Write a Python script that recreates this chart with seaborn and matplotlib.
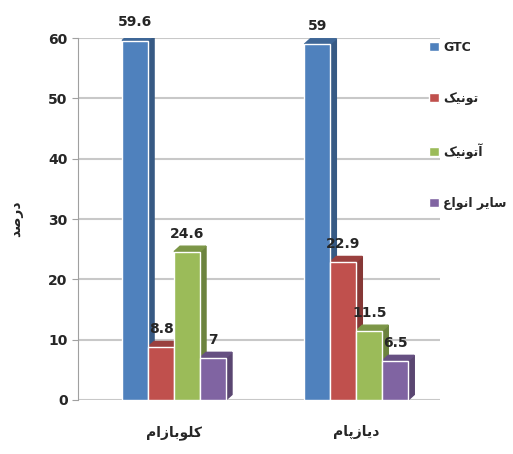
import pandas as pd
import matplotlib.pyplot as plt
import seaborn as sns
from matplotlib.patches import Polygon
from matplotlib.colors import to_rgb

# Presentation forms for the Persian letters used (isolated, final, initial, medial)
FORMS = {
    'ا': ('\uFE8D', '\uFE8E'),
    'آ': ('\uFE81', '\uFE82'),
    'د': ('\uFEA9', '\uFEAA'),
    'ر': ('\uFEAD', '\uFEAE'),
    'ز': ('\uFEAF', '\uFEB0'),
    'و': ('\uFEED', '\uFEEE'),
    'ب': ('\uFE8F', '\uFE90', '\uFE91', '\uFE92'),
    'پ': ('\uFB56', '\uFB57', '\uFB58', '\uFB59'),
    'ت': ('\uFE95', '\uFE96', '\uFE97', '\uFE98'),
    'س': ('\uFEB1', '\uFEB2', '\uFEB3', '\uFEB4'),
    'ص': ('\uFEB9', '\uFEBA', '\uFEBB', '\uFEBC'),
    'ع': ('\uFEC9', '\uFECA', '\uFECB', '\uFECC'),
    'ک': ('\uFB8E', '\uFB8F', '\uFB90', '\uFB91'),
    'ل': ('\uFEDD', '\uFEDE', '\uFEDF', '\uFEE0'),
    'م': ('\uFEE1', '\uFEE2', '\uFEE3', '\uFEE4'),
    'ن': ('\uFEE5', '\uFEE6', '\uFEE7', '\uFEE8'),
    'ی': ('\uFBFC', '\uFBFD', '\uFBFE', '\uFBFF'),
}


def shape(txt):
    # matplotlib does no Arabic shaping / bidi, so do it by hand
    if not any(ch in FORMS for ch in txt):
        return txt
    out = []
    for i, ch in enumerate(txt):
        f = FORMS.get(ch)
        if f is None:
            out.append(ch)
            continue
        prev = txt[i - 1] if i > 0 else None
        nxt = txt[i + 1] if i + 1 < len(txt) else None
        join_prev = prev in FORMS and len(FORMS[prev]) == 4
        join_next = len(f) == 4 and nxt in FORMS
        if join_prev and join_next:
            out.append(f[3])
        elif join_prev:
            out.append(f[1])
        elif join_next:
            out.append(f[2])
        else:
            out.append(f[0])
    return ''.join(reversed(out))


# Dados
drugs = ['کلوبازام', 'دیازپام']
types = ['GTC', 'تونیک', 'آتونیک', 'سایر انواع']
gtc = [59.6, 59]
tonic = [8.8, 22.9]
atonic = [24.6, 11.5]
other = [7, 6.5]
colors = ['#4F81BD', '#C0504D', '#9BBB59', '#8064A2']

dt = pd.DataFrame({'drug': [shape(d) for d in drugs] * 4,
                   'type': sum([[shape(t)] * 2 for t in types], []),
                   'value': gtc + tonic + atonic + other})

sns.set_style('white')
plt.rcParams['font.family'] = ['DejaVu Sans']

fig = plt.figure(figsize=(5.13, 4.54), dpi=100)
ax = fig.add_axes([0.152, 0.119, 0.706, 0.797])

sns.barplot(data=dt, x='drug', y='value', hue='type', palette=colors,
            width=0.57, saturation=1, ax=ax, legend=True, zorder=3)

# Efeito 3D simples: lado e topo mais escuros
dx, dy = 0.033, 0.9
for cont, cor in zip(ax.containers, colors):
    r, g, b = to_rgb(cor)
    side = (r * 0.7, g * 0.7, b * 0.7)
    top = (r * 0.8, g * 0.8, b * 0.8)
    for p in cont.patches:
        x0, w, h = p.get_x(), p.get_width(), p.get_height()
        x1 = x0 + w
        ax.add_patch(Polygon([(x1, 0), (x1 + dx, dy), (x1 + dx, h + dy), (x1, h)],
                             color=side, zorder=2))
        ax.add_patch(Polygon([(x0, h), (x0 + dx, h + dy), (x1 + dx, h + dy), (x1, h)],
                             color=top, zorder=2))
    ax.bar_label(cont, fmt='%g', padding=8, fontsize=10, fontweight='bold')

ax.set_ylim(0, 60)
ax.set_xlim(-0.527, 1.46)
ax.set_yticks(range(0, 61, 10))
ax.set_xlabel('')
ax.set_ylabel(shape('درصد'), fontsize=10, fontweight='bold', labelpad=18)
ax.tick_params(axis='y', labelsize=10, length=4, color='#a0a0a0', left=True)
ax.tick_params(axis='x', labelsize=10, length=0, pad=18)
for lab in ax.get_yticklabels() + ax.get_xticklabels():
    lab.set_fontweight('bold')

ax.set_axisbelow(True)
ax.grid(axis='y', color='#c8c8c8', linewidth=1.5)
for s in ['top', 'right', 'bottom']:
    ax.spines[s].set_visible(False)
ax.spines['left'].set_color('#a0a0a0')

handles, labels = ax.get_legend_handles_labels()
ax.get_legend().remove()
fig.legend(handles, labels, loc='upper left', bbox_to_anchor=(0.815, 0.935),
           frameon=False, handlelength=0.8, handleheight=0.8, handletextpad=0.3,
           labelspacing=3.05, prop={'weight': 'bold', 'size': 9})

plt.savefig('out.png', dpi=100)
plt.close()
